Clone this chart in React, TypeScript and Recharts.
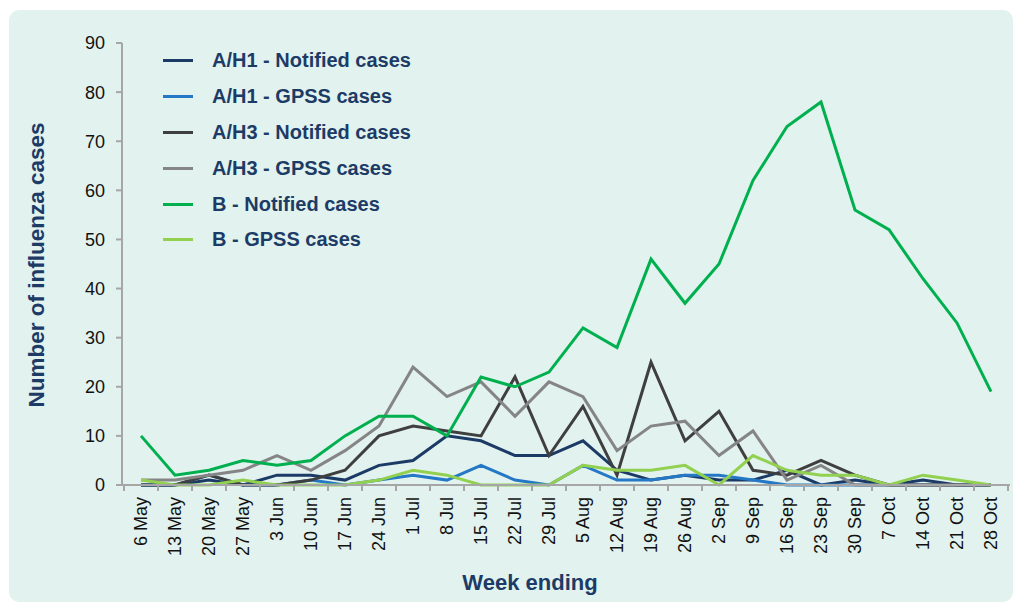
import React from 'react';
import { LineChart, Line, XAxis, YAxis, Legend } from 'recharts';

const weeks = [
  '6 May', '13 May', '20 May', '27 May', '3 Jun', '10 Jun', '17 Jun', '24 Jun', '1 Jul',
  '8 Jul', '15 Jul', '22 Jul', '29 Jul', '5 Aug', '12 Aug', '19 Aug', '26 Aug', '2 Sep',
  '9 Sep', '16 Sep', '23 Sep', '30 Sep', '7 Oct', '14 Oct', '21 Oct', '28 Oct',
];

const h1Notified = [0, 0, 1, 0, 2, 2, 1, 4, 5, 10, 9, 6, 6, 9, 3, 1, 2, 1, 1, 3, 0, 1, 0, 1, 0, 0];
const h1Gpss = [0, 0, 2, 0, 0, 1, 0, 1, 2, 1, 4, 1, 0, 4, 1, 1, 2, 2, 1, 0, 0, 0, 0, 0, 0, 0];
const h3Notified = [0, 0, 2, 0, 0, 1, 3, 10, 12, 11, 10, 22, 6, 16, 2, 25, 9, 15, 3, 2, 5, 2, 0, 0, 0, 0];
const h3Gpss = [1, 1, 2, 3, 6, 3, 7, 12, 24, 18, 21, 14, 21, 18, 7, 12, 13, 6, 11, 1, 4, 0, 0, 0, 0, 0];
const bNotified = [10, 2, 3, 5, 4, 5, 10, 14, 14, 10, 22, 20, 23, 32, 28, 46, 37, 45, 62, 73, 78, 56, 52, 42, 33, 19];
const bGpss = [1, 0, 0, 1, 0, 0, 0, 1, 3, 2, 0, 0, 0, 4, 3, 3, 4, 0, 6, 3, 2, 2, 0, 2, 1, 0];

const yTicks = [0, 10, 20, 30, 40, 50, 60, 70, 80, 90];

const series = [
  { key: 'h1n', name: 'A/H1 - Notified cases', color: '#1b3a66', values: h1Notified },
  { key: 'h1g', name: 'A/H1 - GPSS cases', color: '#2478c6', values: h1Gpss },
  { key: 'h3n', name: 'A/H3 - Notified cases', color: '#3f3f3f', values: h3Notified },
  { key: 'h3g', name: 'A/H3 - GPSS cases', color: '#858585', values: h3Gpss },
  { key: 'bn', name: 'B - Notified cases', color: '#00b04f', values: bNotified },
  { key: 'bg', name: 'B - GPSS cases', color: '#92d050', values: bGpss },
];

const data = weeks.map((week, i) => {
  const row: Record<string, string | number> = { week };
  series.forEach((s) => { row[s.key] = s.values[i]; });
  return row;
});

const FONT = "'Liberation Sans', Arial, sans-serif";
const NAVY = '#1c3b66';
const AXIS = '#a6a6a6';
const BOTTOM = 485;
const STEP = 34;

function XTick(props: any) {
  const { x, payload, index } = props;
  return (
    <g>
      <line x1={x - STEP / 2} y1={BOTTOM} x2={x - STEP / 2} y2={BOTTOM + 6} stroke={AXIS} strokeWidth={2} />
      {index === weeks.length - 1 && (
        <line x1={x + STEP / 2} y1={BOTTOM} x2={x + STEP / 2} y2={BOTTOM + 6} stroke={AXIS} strokeWidth={2} />
      )}
      <text
        x={x}
        y={BOTTOM + 12}
        transform={`rotate(-90, ${x}, ${BOTTOM + 12})`}
        textAnchor="end"
        dominantBaseline="central"
        fontSize={18}
        fontFamily={FONT}
        fill="#111"
      >
        {payload.value}
      </text>
    </g>
  );
}

// legend drawn in series order (recharts would sort it by name)
function LegendBox() {
  return (
    <div>
      {series.map((s) => (
        <div key={s.key} style={{ height: 35.8, display: 'flex', alignItems: 'center' }}>
          <div style={{ width: 30, height: 3, background: s.color, marginRight: 19 }} />
          <span style={{ fontFamily: FONT, fontWeight: 'bold', fontSize: 20, color: NAVY, whiteSpace: 'nowrap' }}>
            {s.name}
          </span>
        </div>
      ))}
    </div>
  );
}

export default function App() {
  return (
    <div style={{ position: 'absolute', left: 0, top: 0, width: 1019, height: 608, background: '#fff' }}>
      <div
        style={{
          position: 'absolute', left: 9, top: 10, width: 1004, height: 592,
          background: '#e2f2ee', borderRadius: 10,
        }}
      />
      <div style={{ position: 'absolute', left: 0, top: 0 }}>
        <LineChart width={1019} height={608} data={data} margin={{ top: 43, right: 9, bottom: 0, left: 0 }}>
          <XAxis
            dataKey="week"
            interval={0}
            height={123}
            padding={{ left: 19, right: 19 }}
            axisLine={{ stroke: AXIS, strokeWidth: 2 }}
            tickLine={false}
            tick={<XTick />}
            label={{
              content: () => (
                <text x={530} y={590} textAnchor="middle" fontSize={22} fontWeight="bold" fontFamily={FONT} fill={NAVY}>
                  Week ending
                </text>
              ),
            }}
          />
          <YAxis
            width={122}
            domain={[0, 90]}
            ticks={yTicks}
            interval={0}
            axisLine={{ stroke: AXIS, strokeWidth: 2 }}
            tickLine={{ stroke: AXIS, strokeWidth: 2 }}
            tickSize={6}
            tickMargin={11}
            tick={{ fontSize: 18, fontFamily: FONT, fill: '#111' }}
            label={{
              content: () => (
                <text
                  x={36}
                  y={265}
                  transform="rotate(-90, 36, 265)"
                  textAnchor="middle"
                  dominantBaseline="central"
                  fontSize={22.5}
                  fontWeight="bold"
                  fontFamily={FONT}
                  fill={NAVY}
                >
                  Number of influenza cases
                </text>
              ),
            }}
          />
          <Legend
            layout="vertical"
            verticalAlign="middle"
            align="center"
            content={<LegendBox />}
            wrapperStyle={{ left: 163, top: 43, width: 300 }}
          />
          {series.map((s) => (
            <Line
              key={s.key}
              type="linear"
              dataKey={s.key}
              name={s.name}
              stroke={s.color}
              strokeWidth={3}
              dot={false}
              activeDot={false}
              isAnimationActive={false}
            />
          ))}
        </LineChart>
      </div>
    </div>
  );
}
